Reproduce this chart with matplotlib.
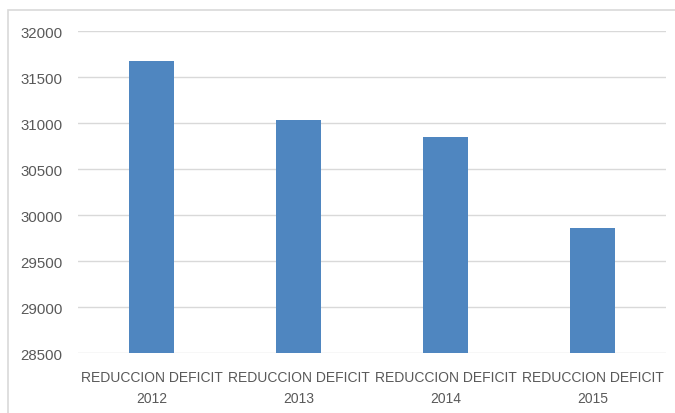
import matplotlib
matplotlib.use("Agg")
import matplotlib.pyplot as plt
from matplotlib.patches import Rectangle

categories = ["REDUCCION DEFICIT\n2012", "REDUCCION DEFICIT\n2013",
              "REDUCCION DEFICIT\n2014", "REDUCCION DEFICIT\n2015"]
values = [31670, 31036, 30845, 29859]
y_ticks = [28500, 29000, 29500, 30000, 30500, 31000, 31500, 32000]

plt.rcParams['font.family'] = ['Liberation Sans', 'DejaVu Sans']

W, H = 675, 414
fig = plt.figure(figsize=(W / 100, H / 100), dpi=100)
ax = fig.add_axes([78 / W, 1 - 354 / H, (666 - 78) / W, (354 - 32) / H])

x = list(range(len(categories)))
ax.bar(x, values, width=0.31, color="#4F86C0", zorder=3)
ax.set_xlim(-0.5, 3.5)
ax.set_ylim(28500, 32000)
ax.set_yticks(y_ticks)
ax.set_yticklabels([str(v) for v in y_ticks])
ax.set_xticks(x)
ax.set_xticklabels(categories, linespacing=1.6)
ax.grid(axis="y", color="#D9D9D9", linewidth=1.0, zorder=0)
for s in ax.spines.values():
    s.set_visible(False)
ax.tick_params(axis="y", length=0, pad=11, labelsize=10.8, labelcolor="#595959")
ax.tick_params(axis="x", length=0, pad=12.5, labelsize=10.0, labelcolor="#595959")

# outer chart border
fig.patches.append(Rectangle((8 / W, -0.1), 1.2, 1 - 11 / H + 0.1,
                             transform=fig.transFigure, fill=False,
                             edgecolor="#D9D9D9", linewidth=1.2))

fig.savefig("out.png", dpi=100)
